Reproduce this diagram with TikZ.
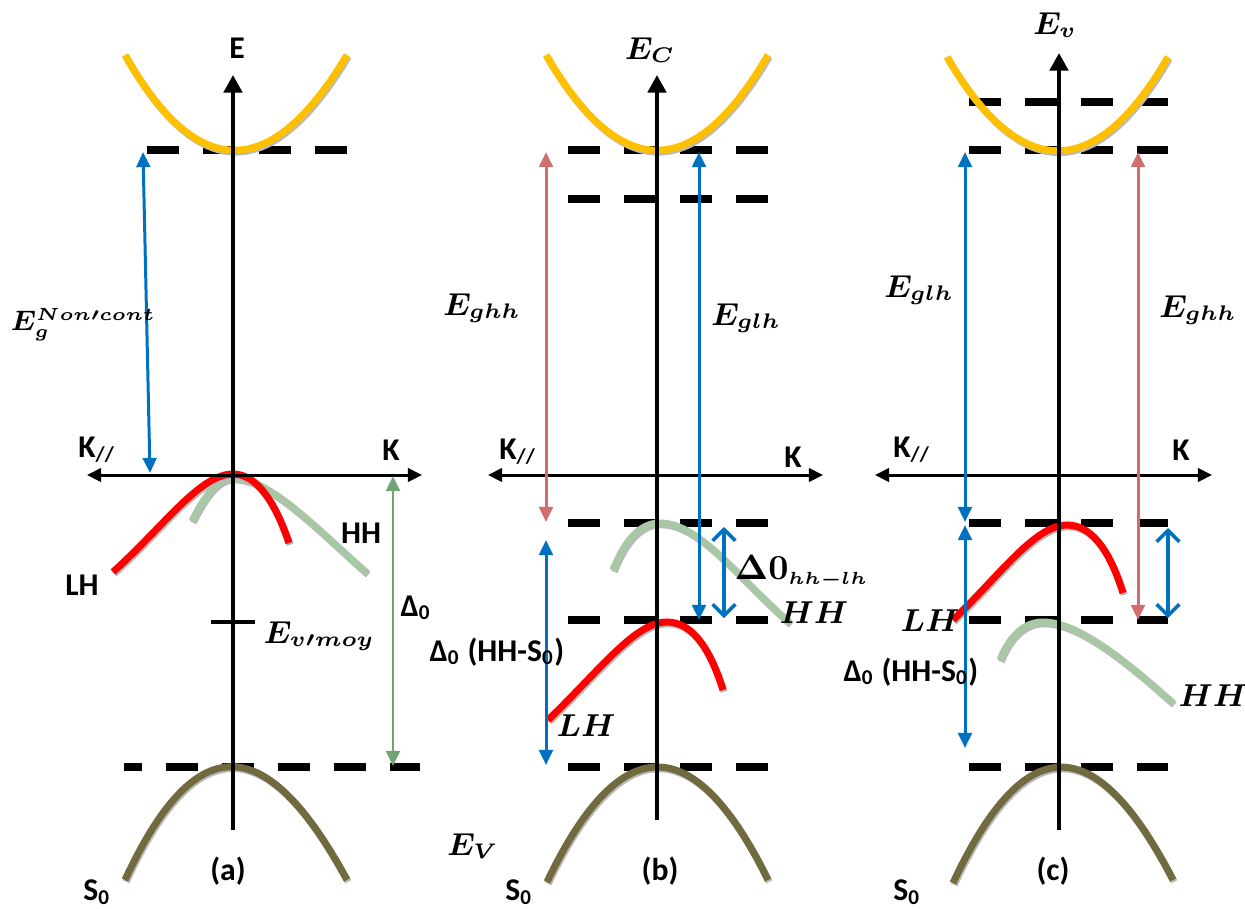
\documentclass[tikz,border=0pt]{standalone}
\usepackage{fontspec}
\setsansfont{Carlito}
\usepackage{amsmath}
\usetikzlibrary{arrows.meta}
\definecolor{cband}{RGB}{255,192,0}
\definecolor{lhred}{RGB}{255,0,0}
\definecolor{hhgreen}{RGB}{168,200,165}
\definecolor{soband}{RGB}{113,106,62}
\definecolor{arrblue}{RGB}{0,112,192}
\definecolor{arrpink}{RGB}{206,110,110}
\definecolor{arrgreen}{RGB}{112,164,116}
\newcommand{\bandpath}[2]{\draw[shade, shift={(1.2,1.8)}] #2; \draw[band, #1] #2;}

\begin{document}
\begin{tikzpicture}[x=0.01cm, y=-0.01cm,
    axisline/.style={line width=1.15pt, -{Triangle[length=5pt,width=5.2pt]}},
    kline/.style={line width=0.85pt, {Triangle[length=4pt,width=3.8pt]}-{Triangle[length=4pt,width=3.8pt]}},
    level/.style={line width=2.3pt, dash pattern=on 9.1pt off 6.83pt},
    band/.style={line width=2pt},
    shade/.style={line width=2pt, draw=gray!55},
    gaparr/.style={line width=0.85pt, {Triangle[length=4.3pt,width=3.9pt]}-{Triangle[length=4.3pt,width=3.9pt]}},
    barbarr/.style={line width=1pt, arrblue, {Straight Barb[length=3.2pt,width=6.5pt]}-{Straight Barb[length=3.2pt,width=6.5pt]}},
    lbl/.style={font=\sffamily\bfseries\fontsize{9}{10}\selectfont, inner sep=0pt},
    mlbl/.style={font=\boldmath\fontsize{9}{11}\selectfont, inner sep=0pt}
]
\useasboundingbox (0,0) rectangle (1245,908);

% (a)
\draw[level] (147,150) -- (347,150);
\draw[level, dash phase=3.98pt] (124,767) -- (420,767);
\bandpath{cband}{(125,55) .. controls (197,182) and (271,182) .. (347,55)}
\bandpath{hhgreen}{(192,521) .. controls (205,495) and (218,478) .. (233,478) .. controls (270,478) and (320,532) .. (367,573)}
\bandpath{lhred}{(113,572) .. controls (165,525) and (200,474) .. (233,474) .. controls (258,474) and (276,505) .. (289,543)}
\bandpath{soband}{(125,880) .. controls (195,729) and (265,729) .. (347,880)}

\coordinate (a-bot) at (233,830);
\coordinate (a-top) at (233,75);
\coordinate (a-kl) at (87,475);
\coordinate (a-kr) at (422,475);
\coordinate (a-t1) at (211,622);
\coordinate (a-t2) at (255,622);
\draw[axisline] (a-bot) -- (a-top);
\draw[kline] (a-kl) -- (a-kr);
\draw[line width=1.15pt] (a-t1) -- (a-t2);

\coordinate (a-eg1) at (143,152);
\coordinate (a-eg2) at (150,473);
\coordinate (a-d1) at (393,476);
\coordinate (a-d2) at (393,766);
\draw[gaparr, arrblue] (a-eg1) -- (a-eg2);
\draw[gaparr, arrgreen] (a-d1) -- (a-d2);

\node[lbl] (a-E) at (237,48) {E};
\node[lbl] (a-Kpar) at (97,450) {K\textsubscript{//}};
\node[lbl] (a-K) at (391,450) {K};
\node[lbl] (a-LH) at (82,585) {LH};
\node[lbl] (a-HH) at (361,533) {HH};
\node[mlbl, anchor=west] (a-Ev) at (263,636) {$E_{v\prime moy}$};
\node[lbl] (a-D0) at (416,608) {Δ\textsubscript{0}};
\node[mlbl, anchor=west, font=\boldmath\fontsize{7.6}{9}\selectfont] (a-Eg) at (10,325) {$E_g^{Non\prime cont}$};
\node[lbl] (a-S0) at (97,892) {S\textsubscript{0}};
\node[lbl] (a-tag) at (228,871) {(a)};

% (b)
\foreach \y in {150,199,523,620,767}
  \draw[level] (568,\y) -- (768,\y);
\bandpath{cband}{(546,55) .. controls (620,182) and (694,182) .. (768,55)}
\bandpath{hhgreen}{(613,570) .. controls (625,540) and (640,523) .. (660,523) .. controls (700,523) and (740,580) .. (790,623)}
\bandpath{lhred}{(548,720) .. controls (600,670) and (635,622) .. (667,622) .. controls (695,622) and (712,655) .. (723,690)}
\bandpath{soband}{(547,882) .. controls (620,729) and (694,729) .. (768,880)}

\coordinate (b-bot) at (657,820);
\coordinate (b-top) at (657,75);
\coordinate (b-kl) at (488,475);
\coordinate (b-kr) at (823,475);
\draw[axisline] (b-bot) -- (b-top);
\draw[kline] (b-kl) -- (b-kr);

\coordinate (b-hh1) at (546,152);
\coordinate (b-hh2) at (546,522);
\coordinate (b-lh1) at (699,152);
\coordinate (b-lh2) at (699,620);
\coordinate (b-so1) at (546,540);
\coordinate (b-so2) at (546,765);
\coordinate (b-sp1) at (724,527);
\coordinate (b-sp2) at (724,618);
\draw[gaparr, arrpink] (b-hh1) -- (b-hh2);
\draw[gaparr, arrblue] (b-lh1) -- (b-lh2);
\draw[gaparr, arrblue] (b-so1) -- (b-so2);
\draw[barbarr] (b-sp1) -- (b-sp2);

\node[mlbl] (b-Ec) at (650,50) {$E_C$};
\node[mlbl] (b-Eghh) at (482,308) {$E_{ghh}$};
\node[mlbl] (b-Eglh) at (746,318) {$E_{glh}$};
\node[lbl] (b-Kpar) at (518,452) {K\textsubscript{//}};
\node[lbl] (b-K) at (793,457) {K};
\node[mlbl, anchor=west, font=\boldmath\fontsize{10}{12}\selectfont] (b-D0) at (734,572) {$\Delta 0_{\scriptscriptstyle hh-lh}$};
\node[mlbl] (b-HH) at (814,613) {$HH$};
\node[lbl] (b-D0s) at (497,652) {Δ\textsubscript{0} (HH-S\textsubscript{0})};
\node[mlbl] (b-LH) at (586,726) {$LH$};
\node[mlbl] (b-Ev) at (473,846) {$E_V$};
\node[lbl] (b-S0) at (519,892) {S\textsubscript{0}};
\node[lbl] (b-tag) at (660,871) {(b)};

% (c)
\foreach \y in {102,150,523,620,767}
  \draw[level] (969,\y) -- (1168,\y);
\bandpath{cband}{(947,57) .. controls (1020,182) and (1096,182) .. (1168,57)}
\bandpath{lhred}{(953,620) .. controls (1000,575) and (1035,525) .. (1067,525) .. controls (1095,525) and (1112,558) .. (1123,593)}
\bandpath{hhgreen}{(1000,660) .. controls (1010,635) and (1025,622) .. (1043,622) .. controls (1080,622) and (1130,665) .. (1173,703)}
\bandpath{soband}{(953,883) .. controls (1025,729) and (1095,729) .. (1173,880)}

\coordinate (c-bot) at (1059,830);
\coordinate (c-top) at (1059,53);
\coordinate (c-kl) at (875,475);
\coordinate (c-kr) at (1212,475);
\draw[axisline] (c-bot) -- (c-top);
\draw[kline] (c-kl) -- (c-kr);

\coordinate (c-lh1) at (965,152);
\coordinate (c-lh2) at (965,522);
\coordinate (c-hh1) at (1138,152);
\coordinate (c-hh2) at (1138,620);
\coordinate (c-so1) at (965,525);
\coordinate (c-so2) at (965,748);
\coordinate (c-sp1) at (1168,528);
\coordinate (c-sp2) at (1168,618);
\draw[gaparr, arrblue] (c-lh1) -- (c-lh2);
\draw[gaparr, arrpink] (c-hh1) -- (c-hh2);
\draw[gaparr, arrblue] (c-so1) -- (c-so2);
\draw[barbarr] (c-sp1) -- (c-sp2);

\node[mlbl] (c-Ev) at (1055,25) {$E_v$};
\node[mlbl] (c-Eglh) at (919,290) {$E_{glh}$};
\node[mlbl] (c-Eghh) at (1198,310) {$E_{ghh}$};
\node[lbl] (c-Kpar) at (912,450) {K\textsubscript{//}};
\node[lbl] (c-K) at (1181,450) {K};
\node[mlbl] (c-LH) at (930,621) {$LH$};
\node[lbl] (c-D0s) at (911,672) {Δ\textsubscript{0} (HH-S\textsubscript{0})};
\node[mlbl] (c-HH) at (1213,696) {$HH$};
\node[lbl] (c-S0) at (907,892) {S\textsubscript{0}};
\node[lbl] (c-tag) at (1053,871) {(c)};
\end{tikzpicture}
\end{document}
